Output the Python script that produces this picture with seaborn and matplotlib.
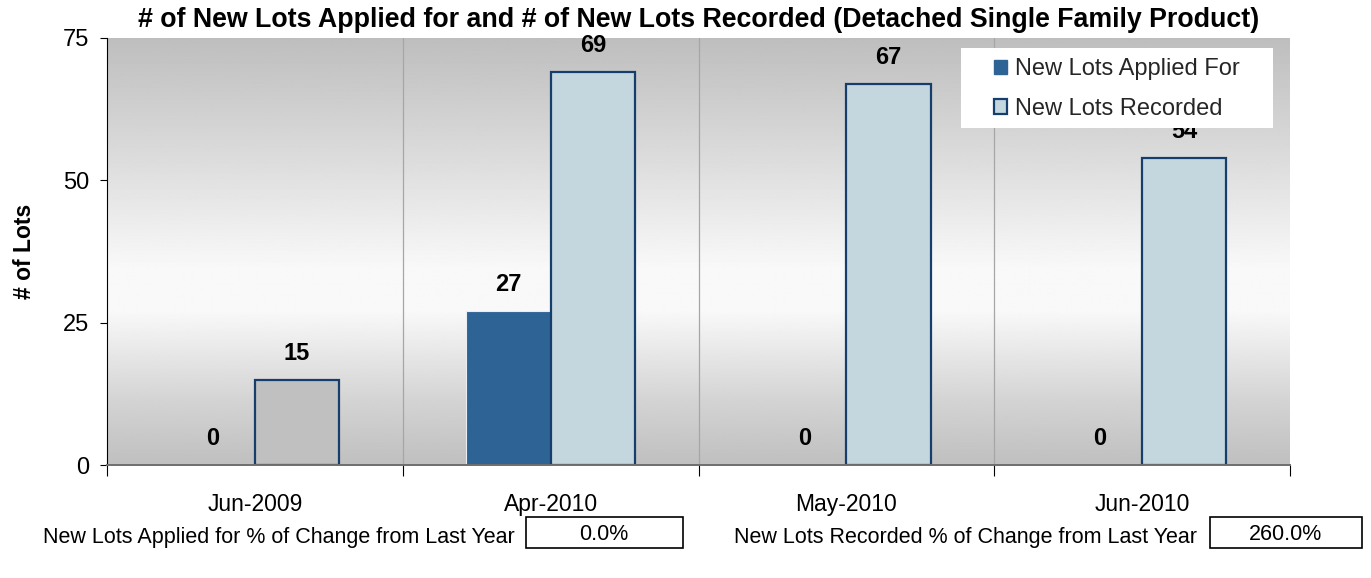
import numpy as np
import pandas as pd
import matplotlib
matplotlib.use("Agg")
import matplotlib.pyplot as plt
from matplotlib.patches import Patch, Rectangle
import seaborn as sns

# Monthly lot counts
months = ["Jun-2009", "Apr-2010", "May-2010", "Jun-2010"]
lots_applied = [0, 27, 0, 0]
lots_recorded = [15, 69, 67, 54]
series_names = ["New Lots Applied For", "New Lots Recorded"]
y_ticks = [0, 25, 50, 75]
pct_applied = "0.0%"
pct_recorded = "260.0%"

sns.set_theme(style="white")
plt.rcParams["font.family"] = ["Liberation Sans", "DejaVu Sans"]

W, H = 1371, 578


def fx(px):
    return px / W


def fy(py):
    return 1 - py / H


df = pd.DataFrame({
    "month": months * 2,
    "series": [series_names[0]] * len(months) + [series_names[1]] * len(months),
    "lots": lots_applied + lots_recorded,
})

fig = plt.figure(figsize=(W / 100, H / 100), dpi=100)
ax = fig.add_axes([fx(107), fy(465), (1290 - 107) / W, (465 - 38) / H])

applied_color = "#2E6396"
recorded_color = "#C4D7DF"
edge_navy = "#163E6C"

sns.barplot(data=df, x="month", y="lots", hue="series", order=months,
            hue_order=series_names, palette=[applied_color, recorded_color],
            saturation=1, width=0.57, gap=0, dodge=True, ax=ax, legend=False, zorder=3)

n = len(months)
ax.set_xlim(-0.5, n - 0.5)
ax.set_ylim(0, 75)

# vertical gradient background: grey at top and bottom, near white below the middle
ys = np.linspace(0, 1, 512)
stops_pos = [0.0, 0.15, 0.36, 0.46, 0.70, 1.0]
stops_val = [0.75, 0.83, 0.975, 0.975, 0.87, 0.745]
shade = np.interp(ys, stops_pos, stops_val)
grad = np.repeat(shade[:, None], 2, axis=1)
ax.imshow(grad, extent=(-0.5, n - 0.5, 0, 75), origin="lower",
          cmap="gray", vmin=0, vmax=1, aspect="auto", zorder=0,
          interpolation="bilinear")

# bar styling: recorded bars get a navy outline; the first one is grey
patches = ax.patches
for p in patches[:n]:
    p.set_edgecolor("#E8EEF4")
    p.set_linewidth(0.8)
for i, p in enumerate(patches[n:2 * n]):
    p.set_edgecolor(edge_navy)
    p.set_linewidth(1.6)
    if i == 0:
        p.set_facecolor("#C0C0C0")

# category separators
for b in np.arange(0.5, n - 0.5, 1):
    ax.axvline(b, color="#A6A6A6", lw=0.9, zorder=1)

# value labels
for p, v in zip(patches[: 2 * n], lots_applied + lots_recorded):
    ax.annotate(f"{v}", (p.get_x() + p.get_width() / 2, p.get_height()),
                xytext=(0, 19), textcoords="offset points", ha="center", va="center",
                fontsize=17, fontweight="bold", color="black", zorder=5)

ax.set_yticks(y_ticks)
ax.set_xticks(np.arange(-0.5, n, 1), minor=True)
ax.tick_params(axis="y", which="major", direction="out", length=5, width=0.8,
               labelsize=17, pad=8, left=True, color="black")
ax.tick_params(axis="x", which="major", length=0, labelsize=16.5, pad=20)
ax.tick_params(axis="x", which="minor", direction="out", length=8, width=0.8,
               bottom=True, color="black")
for lbl in ax.get_yticklabels() + ax.get_xticklabels():
    lbl.set_color("black")

ax.set_xlabel("")
ax.set_ylabel("# of Lots", fontsize=16.5, fontweight="bold", color="black")
ax.yaxis.set_label_coords(-0.060, 0.5)

for side in ["top", "right"]:
    ax.spines[side].set_visible(False)
ax.spines["left"].set_color("black")
ax.spines["left"].set_linewidth(0.8)
ax.spines["bottom"].set_color("#6E6E6E")
ax.spines["bottom"].set_linewidth(1.4)
ax.spines["left"].set_zorder(4)
ax.spines["bottom"].set_zorder(4)

ax.set_title("# of New Lots Applied for and # of New Lots Recorded (Detached Single Family Product)",
             fontsize=19.3, fontweight="bold", color="black", pad=8, x=0.5)

# legend on a plain white panel
fig.add_artist(Rectangle((fx(961), fy(128)), (1273 - 961) / W, 80 / H,
                         transform=fig.transFigure, facecolor="white",
                         edgecolor="none", zorder=6))
handles = [Patch(facecolor=applied_color, edgecolor=applied_color),
           Patch(facecolor=recorded_color, edgecolor=edge_navy, linewidth=1.6)]
leg = fig.legend(handles, series_names, loc="upper left",
                 bbox_to_anchor=(fx(994), fy(58)), bbox_transform=fig.transFigure,
                 fontsize=17, frameon=False, borderpad=0, borderaxespad=0,
                 handlelength=0.55, handleheight=0.55, handletextpad=0.35,
                 labelspacing=0.76)
leg.set_zorder(7)

# year-over-year change boxes below the chart
fig.text(fx(515), fy(537), "New Lots Applied for % of Change from Last Year",
         ha="right", va="center", fontsize=15.5, color="black")
fig.add_artist(Rectangle((fx(526), fy(548)), 157 / W, 31 / H,
                         transform=fig.transFigure, fill=False, edgecolor="black", lw=1.2))
fig.text(fx(604), fy(535), pct_applied, ha="center", va="center",
         fontsize=15.5, color="black")

fig.text(fx(1197), fy(537), "New Lots Recorded % of Change from Last Year",
         ha="right", va="center", fontsize=15.5, color="black")
fig.add_artist(Rectangle((fx(1210), fy(548)), 152 / W, 31 / H,
                         transform=fig.transFigure, fill=False, edgecolor="black", lw=1.2))
fig.text(fx(1286), fy(535), pct_recorded, ha="center", va="center",
         fontsize=15.5, color="black")

fig.savefig("out.png", dpi=100, facecolor="white")
